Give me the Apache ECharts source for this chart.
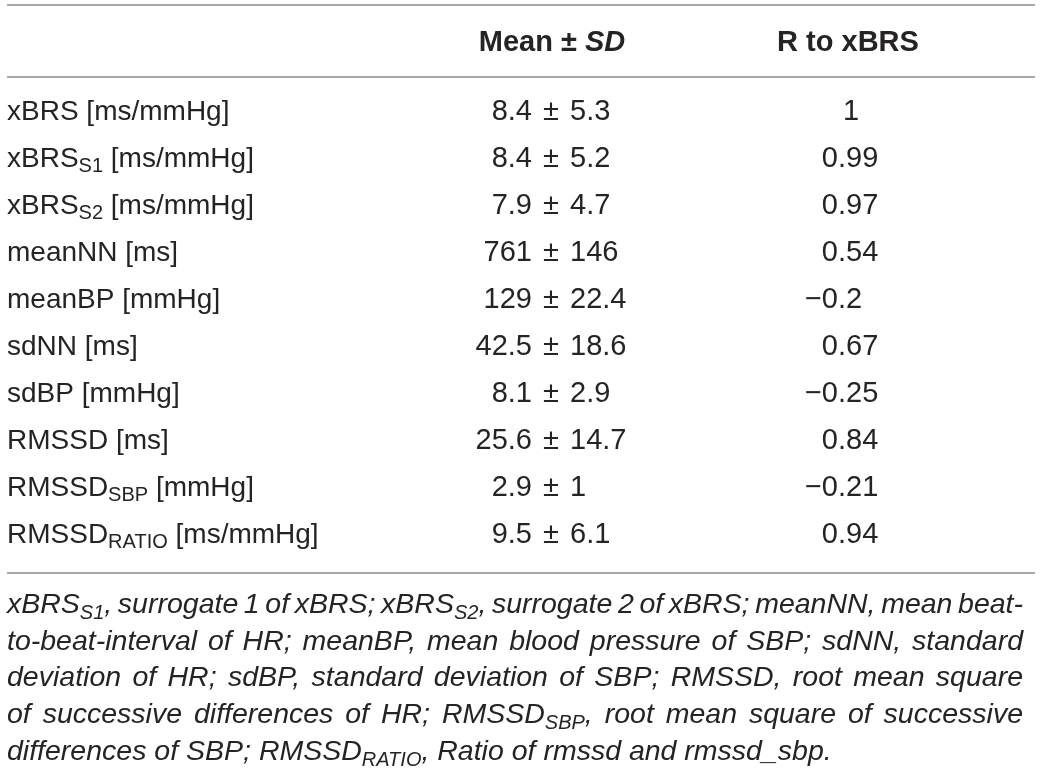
<!DOCTYPE html>
<html><head><meta charset="utf-8">
<script src="https://cdn.jsdelivr.net/npm/echarts@6/dist/echarts.min.js"></script>
<style>html,body{margin:0;padding:0;background:#fff;}#c{width:1042px;height:772px;}</style>
</head><body><div id="c"></div>
<script>
// ---- data ----
const headerMean = 'Mean ± ';
const headerSD = 'SD';
const headerR = 'R to xBRS';
const rowNames = ['xBRS','xBRS','xBRS','meanNN','meanBP','sdNN','sdBP','RMSSD','RMSSD','RMSSD'];
const rowSubs  = ['','S1','S2','','','','','','SBP','RATIO'];
const rowUnits = ['[ms/mmHg]','[ms/mmHg]','[ms/mmHg]','[ms]','[mmHg]','[ms]','[mmHg]','[ms]','[mmHg]','[ms/mmHg]'];
const means = ['8.4','8.4','7.9','761','129','42.5','8.1','25.6','2.9','9.5'];
const sds   = ['5.3','5.2','4.7','146','22.4','18.6','2.9','14.7','1','6.1'];
const rToXbrs = ['1','0.99','0.97','0.54','\u22120.2','0.67','\u22120.25','0.84','\u22120.21','0.94'];
const footnoteLines = [
  'xBRS_{S1}, surrogate 1 of xBRS; xBRS_{S2}, surrogate 2 of xBRS; meanNN, mean beat-',
  'to-beat-interval of HR; meanBP, mean blood pressure of SBP; sdNN, standard',
  'deviation of HR; sdBP, standard deviation of SBP; RMSSD, root mean square',
  'of successive differences of HR; RMSSD_{SBP}, root mean square of successive',
  'differences of SBP; RMSSD_{RATIO}, Ratio of rmssd and rmssd_sbp.'
];

// ---- style / layout ----
const FONT = '"Liberation Sans", Arial, Helvetica, sans-serif';
const FAM = 'Liberation Sans';
const INK = '#262324';
const RULE = '#a8a8a8';
const FS = 28, NUM = 29, HEAD = 29, SUB = 20, SUBDY = 7;
const FNS = 28.5, FNSUB = 20, FNSUBDY = 8;
const LABEL_X = 7, PM_X = 551, PM_GAP = 19, R_DOT_X = 838, R_CENTER_X = 851;
const MEAN_CX = 552, R_CX = 848;

const cv = document.createElement('canvas').getContext('2d');
function tw(t, size, style, weight) {
  cv.font = (style || 'normal') + ' ' + (weight || 'normal') + ' ' + size + 'px ' + FONT;
  return cv.measureText(t).width;
}
function txt(x, y, t, o) {
  o = o || {};
  return {type:'text', x:x, y:y, silent:true, style:{
    text:t, fontSize:o.size || FS, fontFamily:FAM, fontStyle:o.style || 'normal',
    fontWeight:o.weight || 'normal', fill:INK, align:o.align || 'left', verticalAlign:'middle'}};
}

const chart = echarts.init(document.getElementById('c'));

function renderRow(params, api) {
  const i = api.value(1);
  const c = api.coord([LABEL_X, i]);
  const y = c[1];
  const kids = [];
  // label
  let x = c[0];
  if (rowSubs[i]) {
    kids.push(txt(x, y, rowNames[i]));
    x += tw(rowNames[i], FS);
    kids.push(txt(x, y + SUBDY, rowSubs[i], {size:SUB}));
    x += tw(rowSubs[i], SUB) + tw(' ', FS);
    kids.push(txt(x, y, rowUnits[i]));
  } else {
    kids.push(txt(x, y, rowNames[i] + ' ' + rowUnits[i]));
  }
  // mean ± sd
  const pm = api.coord([PM_X, i])[0];
  kids.push(txt(pm - PM_GAP, y, means[i], {align:'right', size:NUM}));
  kids.push(txt(pm, y, '±', {align:'center', size:NUM}));
  kids.push(txt(pm + PM_GAP, y, sds[i], {align:'left', size:NUM}));
  // R
  const r = rToXbrs[i];
  if (r.indexOf('.') >= 0) {
    const parts = r.split('.');
    const dx = api.coord([R_DOT_X, i])[0];
    kids.push(txt(dx, y, parts[0], {align:'right', size:NUM}));
    kids.push(txt(dx, y, '.' + parts[1], {align:'left', size:NUM}));
  } else {
    kids.push(txt(api.coord([R_CENTER_X, i])[0], y, r, {align:'center', size:NUM}));
  }
  return {type:'group', children:kids};
}

// header & footnote & rules as graphic elements
const graphics = [];
[5, 77, 573].forEach(function (yy) {
  graphics.push({type:'line', silent:true, shape:{x1:7, y1:yy, x2:1035, y2:yy}, style:{stroke:RULE, lineWidth:2}});
});
(function () {
  const w1 = tw(headerMean, HEAD, 'normal', 'bold');
  const w2 = tw(headerSD, HEAD, 'italic', 'bold');
  const x0 = MEAN_CX - (w1 + w2) / 2;
  graphics.push(txt(x0, 43, headerMean, {weight:'bold', size:HEAD}));
  graphics.push(txt(x0 + w1, 43, headerSD, {weight:'bold', style:'italic', size:HEAD}));
  graphics.push(txt(R_CX, 43, headerR, {weight:'bold', align:'center', size:HEAD}));
})();

function parseWord(w) {
  const segs = [];
  const re = /_\{([^}]*)\}/g;
  let last = 0, m;
  while ((m = re.exec(w))) {
    if (m.index > last) segs.push({t:w.slice(last, m.index), sub:false});
    segs.push({t:m[1], sub:true});
    last = re.lastIndex;
  }
  if (last < w.length) segs.push({t:w.slice(last), sub:false});
  segs.forEach(function (s) { s.w = tw(s.t, s.sub ? FNSUB : FNS, 'italic'); });
  return {segs:segs, w:segs.reduce(function (a, s) { return a + s.w; }, 0)};
}
const FN_LEFT = 7, FN_RIGHT = 1023, FN_Y0 = 605, FN_DY = 36.75;
footnoteLines.forEach(function (line, li) {
  const words = line.split(' ').map(parseWord);
  const total = words.reduce(function (a, w) { return a + w.w; }, 0);
  const justify = li < footnoteLines.length - 1;
  const gap = justify ? (FN_RIGHT - FN_LEFT - total) / (words.length - 1) : tw(' ', FNS, 'italic');
  const y = FN_Y0 + li * FN_DY;
  let x = FN_LEFT;
  words.forEach(function (w) {
    w.segs.forEach(function (s) {
      graphics.push(txt(x, s.sub ? y + FNSUBDY : y, s.t, {size:s.sub ? FNSUB : FNS, style:'italic'}));
      x += s.w;
    });
    x += gap;
  });
});

chart.setOption({
  animation:false,
  backgroundColor:'#ffffff',
  grid:{left:0, right:0, top:88.5, height:470, containLabel:false, outerBoundsMode:'none'},
  xAxis:{type:'value', min:0, max:1042, show:false},
  yAxis:{type:'category', inverse:true, show:false, data:rowNames.map(function (_, i) { return i; })},
  series:[{
    type:'custom', renderItem:renderRow, encode:{x:0, y:1}, silent:true,
    data:rowNames.map(function (_, i) { return [0, i]; })
  }],
  graphic:graphics
});
</script>
</body></html>
